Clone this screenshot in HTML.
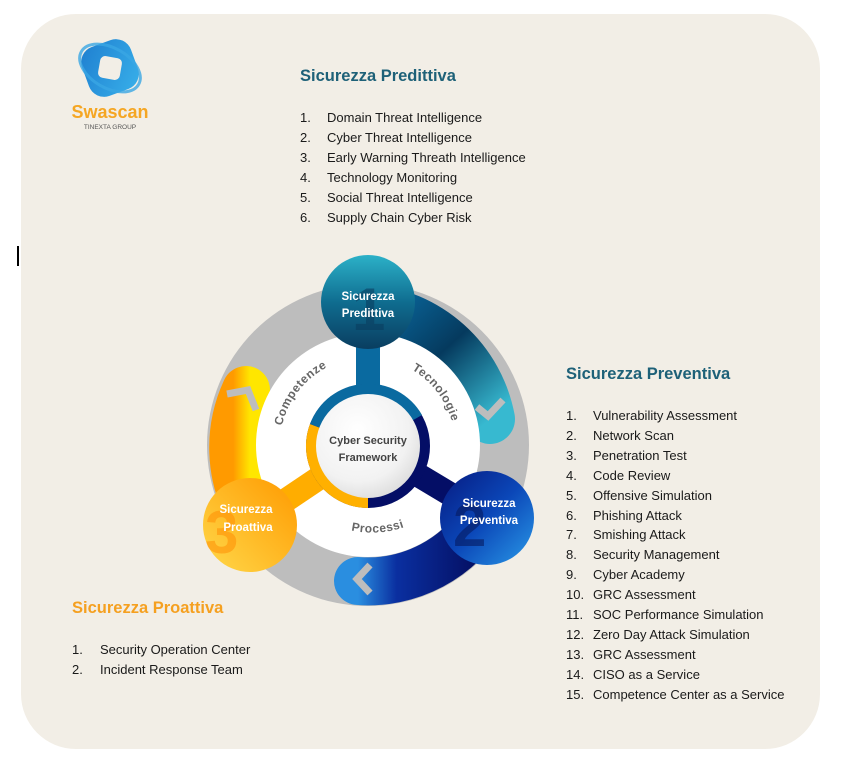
<!DOCTYPE html>
<html><head><meta charset="utf-8"><style>
html,body{margin:0;padding:0;background:#fff;}
body{width:846px;height:771px;position:relative;overflow:hidden;font-family:"Liberation Sans",sans-serif;}
.bg{position:absolute;left:21px;top:14px;width:799px;height:735px;background:#f2eee6;border-radius:55px;}
.t{position:absolute;font-weight:bold;font-size:16.5px;white-space:nowrap;}
.l{position:absolute;font-size:13px;color:#1a1a1a;white-space:nowrap;line-height:20px;}
.l span{display:inline-block;}
</style></head><body>
<div class="bg"></div>
<div style="position:absolute;left:17px;top:246px;width:1.5px;height:20px;background:#000"></div>

<svg style="position:absolute;left:0;top:0" width="846" height="771">
<defs>
<linearGradient id="gb" x1="0" y1="0" x2="1" y2="1"><stop offset="0" stop-color="#0a6aa0"/><stop offset="0.5" stop-color="#053a5e"/><stop offset="1" stop-color="#37b9d0"/></linearGradient>
<linearGradient id="gn" x1="0" y1="0" x2="1" y2="0"><stop offset="0" stop-color="#2a8ee0"/><stop offset="0.3" stop-color="#0a2fa0"/><stop offset="1" stop-color="#040c5c"/></linearGradient>
<linearGradient id="go" x1="0" y1="0" x2="1" y2="0"><stop offset="0" stop-color="#ff9a00"/><stop offset="1" stop-color="#ffe600"/></linearGradient>
<linearGradient id="n1" x1="0" y1="0" x2="0" y2="1"><stop offset="0" stop-color="#2cb1c8"/><stop offset="0.5" stop-color="#0f6d90"/><stop offset="1" stop-color="#0a3e60"/></linearGradient>
<linearGradient id="n2" x1="0" y1="0" x2="1" y2="1"><stop offset="0" stop-color="#061a80"/><stop offset="0.5" stop-color="#0b47b8"/><stop offset="1" stop-color="#2a9ae8"/></linearGradient>
<linearGradient id="n3" x1="1" y1="0" x2="0" y2="1"><stop offset="0" stop-color="#ff9a00"/><stop offset="1" stop-color="#ffd84a"/></linearGradient>
<radialGradient id="cc" cx="0.4" cy="0.35" r="0.7"><stop offset="0" stop-color="#ffffff"/><stop offset="0.7" stop-color="#f2f2f2"/><stop offset="1" stop-color="#dcdcdc"/></radialGradient>
<linearGradient id="lg" x1="0" y1="0" x2="1" y2="1"><stop offset="0" stop-color="#1f7fd0"/><stop offset="1" stop-color="#38b0ea"/></linearGradient>
</defs>
<!-- logo -->
<g transform="translate(110,68)">
<g transform="rotate(-20)">
<rect x="-26" y="-26" width="52" height="52" rx="16" fill="url(#lg)"/>
<rect x="-11" y="-11" width="22" height="22" rx="5" fill="#f2eee6" transform="rotate(30)"/>
<ellipse cx="0" cy="0" rx="33" ry="20" fill="none" stroke="#3aa6e4" stroke-width="3" opacity="0.8" transform="rotate(50)"/>
</g>
</g>
<text x="110" y="118" text-anchor="middle" font-family="Liberation Sans Narrow, Liberation Sans, sans-serif" font-weight="bold" font-size="18" fill="#f5a623">Swascan</text>
<text x="110" y="129" text-anchor="middle" font-size="6.5" fill="#555">TINEXTA GROUP</text>

<!-- diagram -->
<circle cx="368" cy="445" r="161" fill="#bdbdbd"/>
<path d="M368 309 A136 136 0 0 1 490 419" fill="none" stroke="url(#gb)" stroke-width="50" stroke-linecap="round"/>
<path d="M486 513 A136 136 0 0 1 358 581" fill="none" stroke="url(#gn)" stroke-width="48" stroke-linecap="round"/>
<path d="M250 513 A136 136 0 0 1 246 390" fill="none" stroke="url(#go)" stroke-width="48" stroke-linecap="round"/>
<polyline points="477,407 488,416 503,400" fill="none" stroke="#bdbdbd" stroke-width="7"/>
<polyline points="370,565 357,579 370,593" fill="none" stroke="#bdbdbd" stroke-width="7"/>
<polyline points="227,394 248,390 256,410" fill="none" stroke="#bdbdbd" stroke-width="7"/>
<circle cx="368" cy="445" r="112" fill="#fff"/>
<line x1="368" y1="445" x2="368" y2="310" stroke="#0a6aa0" stroke-width="24"/>
<line x1="368" y1="445" x2="485" y2="515" stroke="#040e66" stroke-width="24"/>
<line x1="368" y1="445" x2="252" y2="523" stroke="#ffad00" stroke-width="24"/>
<circle cx="368" cy="446" r="62" fill="#040e66"/>
<path d="M368 446 L368 508 A62 62 0 0 1 310 424 Z" fill="#ffb000"/>
<path d="M368 446 L310 424 A62 62 0 0 1 422 415 Z" fill="#0a6aa0"/>
<circle cx="368" cy="446" r="52" fill="url(#cc)"/>
<text x="368" y="444" text-anchor="middle" font-size="11" font-weight="bold" fill="#444">Cyber Security</text>
<text x="368" y="461" text-anchor="middle" font-size="11" font-weight="bold" fill="#444">Framework</text>
<path id="pc" d="M280 450 A88 88 0 0 1 350 359" fill="none"/>
<path id="pt" d="M395 362 A88 88 0 0 1 455 440" fill="none"/>
<path id="pp" d="M290 490 A100 100 0 0 0 450 495" fill="none"/>
<text font-size="12" font-weight="bold" fill="#666" letter-spacing="0.5"><textPath href="#pc" startOffset="50%" text-anchor="middle">Competenze</textPath></text>
<text font-size="12" font-weight="bold" fill="#666" letter-spacing="0.5"><textPath href="#pt" startOffset="50%" text-anchor="middle">Tecnologie</textPath></text>
<text font-size="12" font-weight="bold" fill="#666" letter-spacing="0.5"><textPath href="#pp" startOffset="55%" text-anchor="middle">Processi</textPath></text>
<!-- nodes -->
<circle cx="368" cy="302" r="47" fill="url(#n1)"/>
<text x="352" y="330" font-size="60" font-weight="bold" fill="#0a3e60" opacity="0.6">1</text>
<text x="368" y="300" text-anchor="middle" font-size="11.5" font-weight="bold" fill="#fff">Sicurezza</text>
<text x="368" y="317" text-anchor="middle" font-size="11.5" font-weight="bold" fill="#fff">Predittiva</text>
<circle cx="487" cy="518" r="47" fill="url(#n2)"/>
<text x="453" y="546" font-size="60" font-weight="bold" fill="#061a60" opacity="0.6">2</text>
<text x="489" y="507" text-anchor="middle" font-size="11.5" font-weight="bold" fill="#fff">Sicurezza</text>
<text x="489" y="524" text-anchor="middle" font-size="11.5" font-weight="bold" fill="#fff">Preventiva</text>
<circle cx="250" cy="525" r="47" fill="url(#n3)"/>
<text x="205" y="553" font-size="60" font-weight="bold" fill="#ff8a00" opacity="0.5">3</text>
<text x="246" y="513" text-anchor="middle" font-size="11.5" font-weight="bold" fill="#fff">Sicurezza</text>
<text x="248" y="531" text-anchor="middle" font-size="11.5" font-weight="bold" fill="#fff">Proattiva</text>
</svg>

<div class="t" style="left:300px;top:67px;color:#1e6178">Sicurezza Predittiva</div>
<div class="l" style="left:300px;top:108px">
<div><span style="width:27px">1.</span>Domain Threat Intelligence</div>
<div><span style="width:27px">2.</span>Cyber Threat Intelligence</div>
<div><span style="width:27px">3.</span>Early Warning Threath Intelligence</div>
<div><span style="width:27px">4.</span>Technology Monitoring</div>
<div><span style="width:27px">5.</span>Social Threat Intelligence</div>
<div><span style="width:27px">6.</span>Supply Chain Cyber Risk</div>
</div>

<div class="t" style="left:566px;top:365px;color:#1e6178">Sicurezza Preventiva</div>
<div class="l" style="left:566px;top:406px;line-height:19.9px">
<div><span style="width:27px">1.</span>Vulnerability Assessment</div>
<div><span style="width:27px">2.</span>Network Scan</div>
<div><span style="width:27px">3.</span>Penetration Test</div>
<div><span style="width:27px">4.</span>Code Review</div>
<div><span style="width:27px">5.</span>Offensive Simulation</div>
<div><span style="width:27px">6.</span>Phishing Attack</div>
<div><span style="width:27px">7.</span>Smishing Attack</div>
<div><span style="width:27px">8.</span>Security Management</div>
<div><span style="width:27px">9.</span>Cyber Academy</div>
<div><span style="width:27px">10.</span>GRC Assessment</div>
<div><span style="width:27px">11.</span>SOC Performance Simulation</div>
<div><span style="width:27px">12.</span>Zero Day Attack Simulation</div>
<div><span style="width:27px">13.</span>GRC Assessment</div>
<div><span style="width:27px">14.</span>CISO as a Service</div>
<div><span style="width:27px">15.</span>Competence Center as a Service</div>
</div>

<div class="t" style="left:72px;top:599px;color:#f5a020">Sicurezza Proattiva</div>
<div class="l" style="left:72px;top:640px">
<div><span style="width:28px">1.</span>Security Operation Center</div>
<div><span style="width:28px">2.</span>Incident Response Team</div>
</div>
</body></html>
